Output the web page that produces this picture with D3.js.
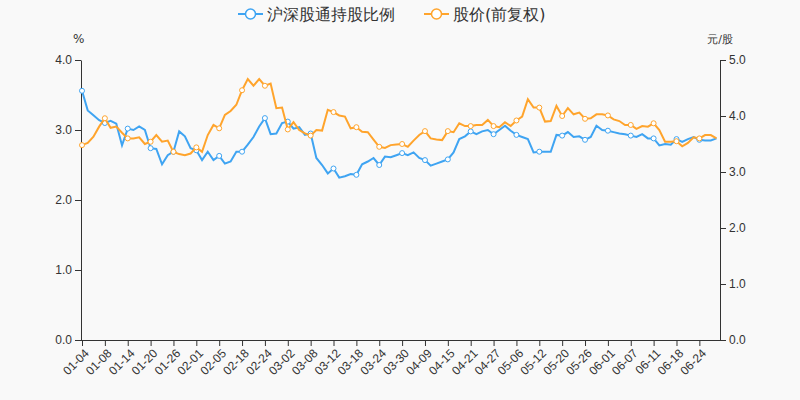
<!DOCTYPE html>
<html><head><meta charset="utf-8">
<script src="https://cdn.jsdelivr.net/npm/d3@7"></script>
<style>body{margin:0;background:#f9f9f9;font-family:"DejaVu Sans",sans-serif}</style></head>
<body><svg id="c" width="800" height="400"></svg>
<script>
const tickLabels=["01-04","01-08","01-14","01-20","01-26","02-01","02-05","02-18","02-24","03-02","03-08","03-12","03-18","03-24","03-30","04-09","04-15","04-21","04-27","05-06","05-12","05-20","05-26","06-01","06-07","06-11","06-18","06-24"];
const holdPct=[3.56,3.28,3.21,3.14,3.10,3.13,3.09,2.78,3.02,3.00,3.05,3.00,2.74,2.73,2.51,2.64,2.69,2.98,2.91,2.74,2.71,2.57,2.69,2.57,2.63,2.52,2.55,2.69,2.69,2.79,2.90,3.05,3.17,2.94,2.95,3.10,3.12,3.02,3.04,2.93,2.95,2.60,2.50,2.38,2.45,2.32,2.34,2.37,2.36,2.51,2.55,2.60,2.50,2.62,2.61,2.64,2.67,2.64,2.68,2.60,2.57,2.49,2.52,2.55,2.58,2.68,2.87,2.91,2.98,2.94,2.98,3.00,2.94,3.00,3.06,2.99,2.93,2.90,2.87,2.68,2.69,2.69,2.69,2.93,2.92,2.97,2.90,2.91,2.86,2.90,3.06,3.00,2.99,2.97,2.95,2.94,2.92,2.90,2.94,2.88,2.88,2.78,2.80,2.79,2.87,2.83,2.87,2.90,2.86,2.85,2.85,2.88];
const price=[3.48,3.52,3.63,3.81,3.96,3.79,3.81,3.70,3.60,3.60,3.62,3.50,3.54,3.66,3.54,3.56,3.36,3.32,3.30,3.33,3.44,3.36,3.66,3.84,3.78,4.02,4.09,4.20,4.46,4.66,4.54,4.66,4.54,4.58,4.14,4.15,3.76,3.89,3.75,3.69,3.65,3.75,3.74,4.11,4.07,4.01,3.99,3.78,3.80,3.72,3.71,3.58,3.45,3.43,3.48,3.49,3.50,3.45,3.56,3.66,3.73,3.60,3.58,3.57,3.73,3.71,3.87,3.82,3.82,3.84,3.84,3.93,3.82,3.80,3.89,3.82,3.92,3.99,4.30,4.15,4.15,3.90,3.91,4.18,4.00,4.14,4.03,4.06,3.95,3.96,4.03,4.03,4.01,3.94,3.91,3.84,3.84,3.77,3.82,3.81,3.87,3.75,3.54,3.54,3.55,3.46,3.52,3.62,3.60,3.66,3.66,3.60];
const leftTicks=[0,1,2,3,4], rightTicks=[0,1,2,3,4,5];
const cBlue="#3fa4f2", cOrange="#ffa42c";
const svg=d3.select("#c");
svg.append("rect").attr("width",800).attr("height",400).attr("fill","#f9f9f9");
const L=81,R=720,T=60,B=340;
const idx=d3.range(holdPct.length);
const x=d3.scalePoint().domain(idx).range([L+1,716.5]);
const yl=d3.scaleLinear().domain([0,4]).range([B,T]);
const yr=d3.scaleLinear().domain([0,5]).range([B,T]);
const ax=svg.append("g").attr("transform",`translate(0,${B})`)
 .call(d3.axisBottom(x).tickValues(idx.filter(i=>i%4===0&&i/4<tickLabels.length)).tickFormat(i=>tickLabels[i/4]).tickSizeOuter(0));
ax.select(".domain").attr("d",`M${L},0.5H${R}`);
ax.selectAll("text").attr("transform","rotate(-45)").attr("text-anchor","end").attr("dx","-0.4em").attr("dy","0.5em");
svg.append("g").attr("transform",`translate(${L},0)`).call(d3.axisLeft(yl).tickValues(leftTicks).tickSizeOuter(0));
svg.append("g").attr("transform",`translate(${R},0)`).call(d3.axisRight(yr).tickValues(rightTicks).tickSizeOuter(0));
svg.selectAll(".tick text").attr("fill","#333").style("font-size","12px");
svg.selectAll(".domain,.tick line").attr("stroke","#333");
function series(data,y,col){
 svg.append("path").datum(data).attr("fill","none").attr("stroke",col).attr("stroke-width",2)
  .attr("d",d3.line().x((d,i)=>x(i)).y(d=>y(d)));
 svg.selectAll(null).data(data.map((d,i)=>[i,d]).filter(p=>p[0]%4===0)).join("circle")
  .attr("cx",p=>x(p[0])).attr("cy",p=>y(p[1])).attr("r",2.5).attr("fill","#fff").attr("stroke",col).attr("stroke-width",1);
}
series(holdPct,yl,cBlue);
series(price,yr,cOrange);
svg.append("text").attr("x",73).attr("y",43).text("%").attr("font-size",12).attr("fill","#333");
svg.append("text").attr("x",733).attr("y",43).attr("text-anchor","end").text("元/股").attr("font-size",11).attr("fill","#333");
const leg=[["沪深股通持股比例",cBlue,238],["股价(前复权)",cOrange,424]];
leg.forEach(([t,c,lx])=>{
 svg.append("line").attr("x1",lx).attr("x2",lx+25).attr("y1",14).attr("y2",14).attr("stroke",c).attr("stroke-width",2);
 svg.append("circle").attr("cx",lx+12.5).attr("cy",14).attr("r",5).attr("fill","#fff").attr("stroke",c).attr("stroke-width",1.5);
 svg.append("text").attr("x",lx+29).attr("y",20).text(t).attr("font-size",16).attr("fill","#333");
});
</script></body></html>
